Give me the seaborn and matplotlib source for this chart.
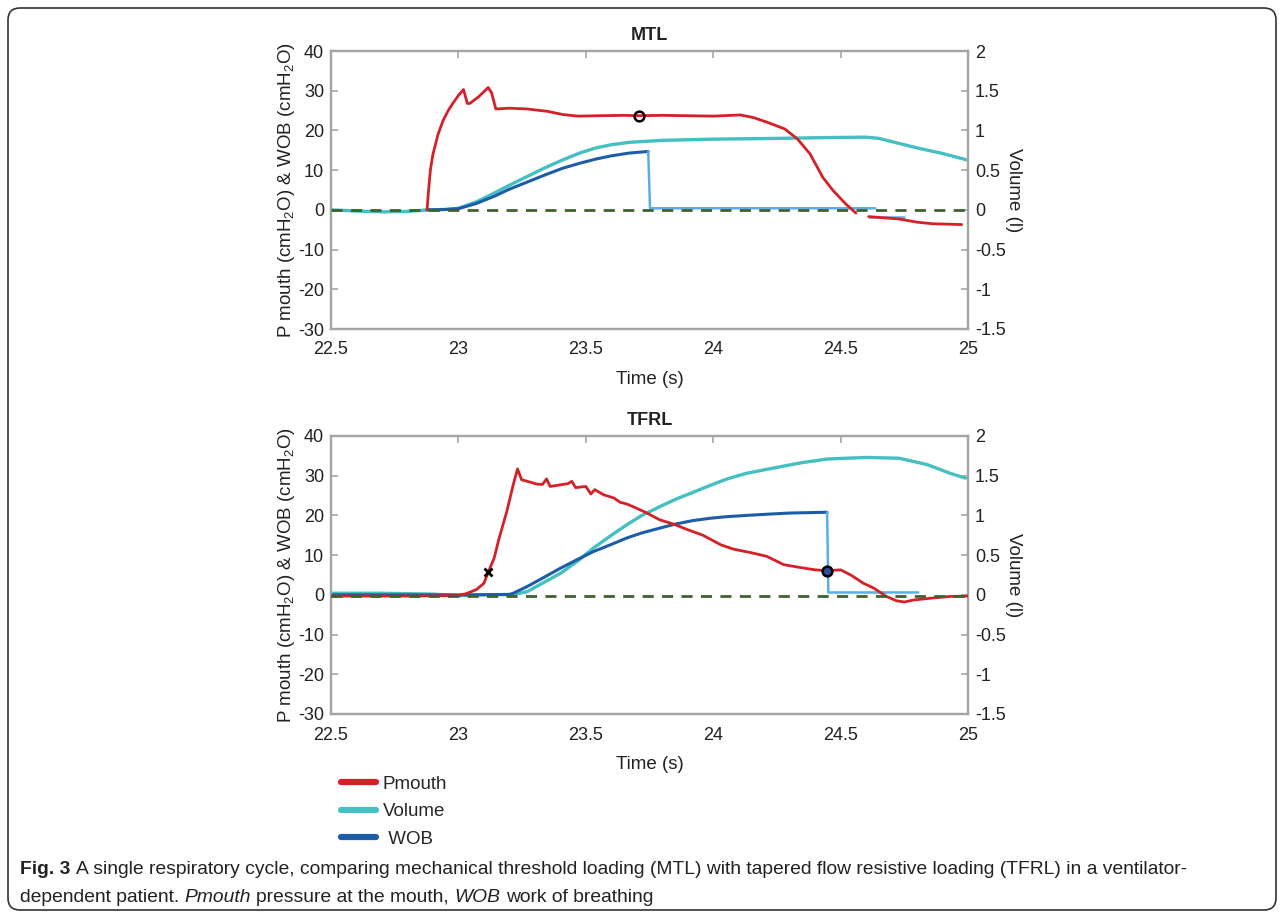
import numpy as np
import matplotlib
matplotlib.use("Agg")
import matplotlib.pyplot as plt
import matplotlib.font_manager as fm
from matplotlib.lines import Line2D
from matplotlib.patches import FancyBboxPatch
from matplotlib.ticker import FormatStrFormatter
import pandas as pd
import seaborn as sns

nan = np.nan

# ---- MTL panel (time in s, pressure/WOB in cmH2O, volume in l) ----
mtl_p_t = [22.877, 22.883, 22.89, 22.90, 22.92, 22.94, 22.96, 22.98, 23.0, 23.02, 23.035,
           23.045, 23.08, 23.117, 23.13, 23.147, 23.2, 23.27, 23.35, 23.41, 23.47, 23.55,
           23.65, 23.71, 23.8, 23.9, 24.0, 24.107, 24.16, 24.21, 24.28, 24.33, 24.38, 24.43,
           24.47, 24.52, 24.56, nan, 24.61, 24.67, 24.73, 24.80, 24.86, 24.92, 24.975]
mtl_pmouth = [0, 5, 10, 14, 19, 22.5, 25, 27, 28.8, 30.3, 26.8,
              26.8, 28.5, 30.8, 29.5, 25.4, 25.6, 25.4, 24.8, 24.0, 23.6, 23.7,
              23.8, 23.7, 23.8, 23.7, 23.6, 23.9, 23.2, 22.1, 20.4, 17.9, 14.1, 8.2,
              4.9, 1.5, -0.8, nan, -1.7, -2.0, -2.3, -3.1, -3.5, -3.6, -3.7]

mtl_v_t = [22.5, 22.6, 22.7, 22.8, 22.88, 22.95, 23.0, 23.07, 23.14, 23.2, 23.27, 23.34,
           23.41, 23.48, 23.54, 23.6, 23.67, 23.8, 24.0, 24.26, 24.45, 24.6, 24.65, 24.7,
           24.8, 24.9, 24.995]
mtl_volume = [0, -0.015, -0.025, -0.02, 0, 0.005, 0.02, 0.1, 0.21, 0.31, 0.42, 0.53,
              0.63, 0.72, 0.78, 0.82, 0.85, 0.875, 0.89, 0.9, 0.91, 0.915, 0.90, 0.86,
              0.78, 0.71, 0.63]

mtl_w_t = [22.877, 22.95, 23.0, 23.07, 23.14, 23.2, 23.27, 23.34, 23.41, 23.48, 23.54,
           23.6, 23.67, 23.745]
mtl_wob = [0, 0.1, 0.3, 1.6, 3.4, 5.2, 7.0, 8.8, 10.5, 11.8, 12.8, 13.6, 14.3, 14.7]
mtl_reset_t = [23.745, 23.752, 24.636, nan, 24.61, 24.75]
mtl_reset = [14.7, 0.4, 0.4, nan, -1.7, -1.7]

mtl_circle = (23.71, 23.7)

# ---- TFRL panel ----
tfrl_p_t = [22.5, 22.8, 23.0, 23.03, 23.07, 23.10, 23.117, 23.14, 23.16, 23.19, 23.215,
            23.232, 23.248, 23.27, 23.307, 23.33, 23.346, 23.36, 23.40, 23.43, 23.445,
            23.46, 23.50, 23.52, 23.535, 23.57, 23.61, 23.635, 23.66, 23.70, 23.74, 23.79,
            23.845, 23.90, 23.96, 24.03, 24.08, 24.15, 24.21, 24.277, 24.34, 24.40, 24.447,
            24.5, 24.54, 24.59, 24.63, 24.68, 24.72, 24.75, 24.786, 24.86, 24.93, 25.0]
tfrl_pmouth = [-0.3, -0.3, -0.2, 0.3, 1.3, 2.9, 5.7, 9.2, 14.3, 21, 27.7,
               31.7, 29, 28.6, 27.9, 27.8, 29.2, 27.3, 27.7, 28.0, 28.6,
               27.0, 27.3, 25.4, 26.5, 25.2, 24.4, 23.3, 22.9, 21.8, 20.6, 18.9,
               17.8, 16.4, 15.0, 12.6, 11.5, 10.6, 9.7, 7.6, 6.9, 6.3, 6.1,
               6.3, 5.0, 2.9, 1.7, -0.4, -1.5, -1.8, -1.3, -0.8, -0.4, -0.3]

tfrl_v_t = [22.5, 22.7, 22.9, 23.0, 23.1, 23.215, 23.27, 23.33, 23.40, 23.47, 23.53, 23.6,
            23.66, 23.72, 23.79, 23.85, 23.92, 23.99, 24.055, 24.13, 24.21, 24.34, 24.447,
            24.6, 24.73, 24.84, 24.93, 24.99]
tfrl_volume = [0.02, 0.02, 0.01, -0.01, 0.0, 0.005, 0.04, 0.147, 0.27, 0.43, 0.59, 0.75,
               0.88, 1.0, 1.11, 1.2, 1.29, 1.38, 1.46, 1.53, 1.58, 1.66, 1.71,
               1.73, 1.72, 1.64, 1.53, 1.47]

tfrl_w_t = [22.5, 23.0, 23.2, 23.215, 23.27, 23.33, 23.40, 23.47, 23.53, 23.6, 23.66,
            23.72, 23.79, 23.85, 23.92, 23.99, 24.055, 24.13, 24.21, 24.3, 24.447]
tfrl_wob = [0, 0, 0.1, 0.4, 2.1, 4.2, 6.7, 9.0, 10.9, 12.7, 14.3,
            15.6, 16.8, 17.8, 18.7, 19.3, 19.7, 20.0, 20.3, 20.6, 20.8]
tfrl_reset_t = [24.447, 24.452, 24.805]
tfrl_reset = [20.8, 0.6, 0.6]

tfrl_cross = (23.117, 5.7)
tfrl_circle = (24.447, 6.1)

baselines = [0, -0.4]
titles = ["MTL", "TFRL"]
x_ticks = [22.5, 23, 23.5, 24, 24.5, 25]
p_ticks = [-30, -20, -10, 0, 10, 20, 30, 40]
v_ticks = [-1.5, -1, -0.5, 0, 0.5, 1, 1.5, 2]
legend_labels = ["Pmouth", "Volume", " WOB"]

RED = "#d42026"
CYAN = "#45c0c2"
BLUE = "#1d5da8"
LBLUE = "#5aaee3"
GREEN = "#3e6130"
GRAY = "#a5a5a5"

sns.set_theme(style="white")
plt.rcParams["font.family"] = ["Liberation Sans", "DejaVu Sans"]
plt.rcParams["mathtext.default"] = "regular"
plt.rcParams["axes.unicode_minus"] = False

W, H = 1284, 917
fig = plt.figure(figsize=(W / 100, H / 100), dpi=100)


def draw_series(ax, t, y, color, lw, z=2):
    """Draw a series with NaN gaps as separate seaborn line segments."""
    df = pd.DataFrame({"t": t, "y": y})
    seg = df["t"].isna().cumsum()
    for _, part in df.dropna().groupby(seg[df["t"].notna()]):
        sns.lineplot(data=part, x="t", y="y", ax=ax, color=color, lw=lw,
                     sort=False, estimator=None, zorder=z)


panels = [
    dict(pt=mtl_p_t, p=mtl_pmouth, vt=mtl_v_t, v=mtl_volume, wt=mtl_w_t, w=mtl_wob,
         rt=mtl_reset_t, r=mtl_reset, circles=[mtl_circle], crosses=[]),
    dict(pt=tfrl_p_t, p=tfrl_pmouth, vt=tfrl_v_t, v=tfrl_volume, wt=tfrl_w_t, w=tfrl_wob,
         rt=tfrl_reset_t, r=tfrl_reset, circles=[tfrl_circle], crosses=[tfrl_cross]),
]
tops = [51, 436]

for i, pdat in enumerate(panels):
    top = tops[i]
    ax = fig.add_axes([331 / W, 1 - (top + 278) / H, 637 / W, 278 / H])
    ax2 = ax.twinx()

    # volume on the right axis
    draw_series(ax2, pdat["vt"], pdat["v"], CYAN, 2.4, z=2)
    ax2.set_ylim(-1.5, 2)
    ax2.set_yticks(v_ticks)
    ax2.yaxis.set_major_formatter(FormatStrFormatter("%g"))
    ax2.set_ylabel("Volume (l)", rotation=270, fontsize=13.5, labelpad=12, color="#222")
    ax2.tick_params(axis="y", direction="in", length=5, width=1.2, colors=GRAY,
                    labelcolor="#222", labelsize=13, pad=5)

    # pressure / WOB on left axis; put left axis above twin
    ax.set_zorder(ax2.get_zorder() + 1)
    ax.patch.set_visible(False)
    draw_series(ax, pdat["wt"], pdat["w"], BLUE, 2.2)
    draw_series(ax, pdat["rt"], pdat["r"], LBLUE, 1.8)
    draw_series(ax, pdat["pt"], pdat["p"], RED, 2.0, z=3)
    ax.axhline(baselines[i], color=GREEN, lw=2.0, dashes=(4, 3), zorder=4)
    for cx, cy in pdat["circles"]:
        ax.plot(cx, cy, "o", ms=7, mfc="none" if i == 0 else "#2a4f9a",
                mec="black", mew=1.8, zorder=5)
    for cx, cy in pdat["crosses"]:
        ax.plot(cx, cy, "x", ms=6, mec="black", mew=2, zorder=5)

    ax.set_xlim(22.5, 25)
    ax.set_ylim(-30, 40)
    ax.set_xticks(x_ticks)
    ax.set_yticks(p_ticks)
    ax.xaxis.set_major_formatter(FormatStrFormatter("%g"))
    ax.tick_params(axis="both", direction="in", length=5, width=1.2, colors=GRAY,
                   labelcolor="#222", labelsize=13, top=True, pad=5)
    ax.tick_params(axis="x", pad=9)
    ax.tick_params(axis="y", right=False)
    ax.set_xlabel("Time (s)", fontsize=13.5, labelpad=9, color="#222")
    ax.set_ylabel("P mouth (cmH$_2$O) & WOB (cmH$_2$O)", fontsize=13.5, labelpad=1,
                  color="#222")
    ax.set_title(titles[i], fontsize=13, fontweight="bold", pad=8, color="#222")
    for a in (ax, ax2):
        for sp in a.spines.values():
            sp.set_color(GRAY)
            sp.set_linewidth(1.6)

# legend
handles = [Line2D([0], [0], color=c, lw=4.5) for c in (RED, CYAN, BLUE)]
fig.legend(handles, legend_labels, loc="upper left",
           bbox_to_anchor=(333 / W, 1 - 768 / H), frameon=False, fontsize=13.5,
           handlelength=1.9, handletextpad=0.35, labelspacing=0.56, borderaxespad=0)

# caption
names = {f.name for f in fm.fontManager.ttflist}
cap_family = "Liberation Sans Narrow" if "Liberation Sans Narrow" in names else "Liberation Sans"
renderer = fig.canvas.get_renderer()

line1 = [("Fig. 3", dict(fontweight="bold")),
         ("A single respiratory cycle, comparing mechanical threshold loading (MTL) with "
          "tapered flow resistive loading (TFRL) in a ventilator-", {})]
line2 = [("dependent patient.", {}), ("Pmouth", dict(fontstyle="italic")),
         ("pressure at the mouth,", {}), ("WOB", dict(fontstyle="italic")),
         ("work of breathing", {})]


def place_line(pieces, x0, yc, size):
    probe = fig.text(0, 0, "a a", fontsize=size, family=cap_family)
    probe2 = fig.text(0, 0, "aa", fontsize=size, family=cap_family)
    gap = probe.get_window_extent(renderer).width - probe2.get_window_extent(renderer).width
    probe.remove()
    probe2.remove()
    x = x0
    texts = []
    for s, kw in pieces:
        t = fig.text(x / W, 1 - yc / H, s, fontsize=size, family=cap_family,
                     va="center", ha="left", color="#222", **kw)
        texts.append(t)
        x += t.get_window_extent(renderer).width + gap
    return texts, x - gap - x0


texts, width = place_line(line1, 20, 870, 14)
for t in texts:
    t.remove()
cap_size = 14 * 1175 / width
place_line(line1, 20, 870, cap_size)
place_line(line2, 20, 897, cap_size)

# rounded frame around the figure
fig.patches.append(FancyBboxPatch((0.08, 0.07), 12.68, 9.02,
                                  boxstyle="round,pad=0,rounding_size=0.12",
                                  transform=fig.dpi_scale_trans, fill=False,
                                  ec="#333333", lw=1.2))

fig.savefig("out.png", dpi=100)
